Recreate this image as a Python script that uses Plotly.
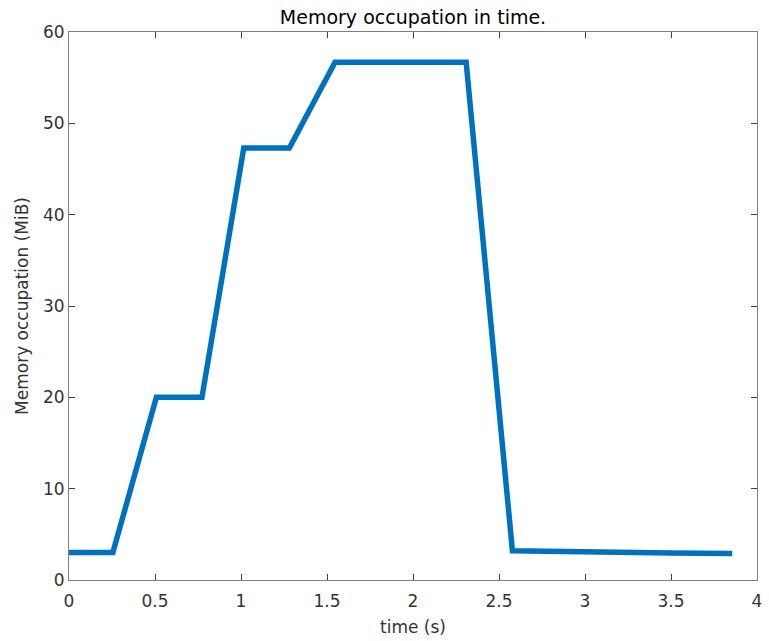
import plotly.graph_objects as go

time_s = [0, 0.255, 0.508, 0.773, 1.016, 1.281, 1.547, 2.309, 2.578, 2.86, 2.97, 3.1, 3.5, 3.856]
memory_mib = [3.0, 3.0, 20.0, 20.0, 47.3, 47.3, 56.7, 56.7, 3.2, 3.1, 3.0, 2.95, 2.95, 2.9]

x_ticks = [0, 0.5, 1, 1.5, 2, 2.5, 3, 3.5, 4]
x_tick_labels = ["0", "0.5", "1", "1.5", "2", "2.5", "3", "3.5", "4"]
y_ticks = [0, 10, 20, 30, 40, 50, 60]

FONT = "DejaVu Sans, Liberation Sans, Arial, sans-serif"
TXT = "#333333"

fig = go.Figure()
fig.add_trace(go.Scatter(
    x=time_s, y=memory_mib, mode="lines",
    line=dict(color="#0072BD", width=5.5),
    hoverinfo="skip", showlegend=False,
))

axis_common = dict(
    showgrid=False, zeroline=False, showline=True, linecolor="#808080", linewidth=1,
    mirror="ticks", ticks="inside", ticklen=6, tickcolor="#404040", tickwidth=1,
    tickfont=dict(family=FONT, size=17, color=TXT),
)

fig.update_layout(
    width=769, height=641,
    margin=dict(l=69, r=7, t=32, b=61),
    paper_bgcolor="white", plot_bgcolor="white",
    title=dict(text="Memory occupation in time.", x=0.5, xanchor="center", xref="paper",
               y=1 - 17 / 641, yanchor="middle",
               font=dict(family=FONT, size=19, color="black")),
    xaxis=dict(range=[0, 4], tickvals=x_ticks, ticktext=x_tick_labels,
               ticklabelstandoff=6, **axis_common),
    yaxis=dict(range=[0, 60], tickvals=y_ticks,
               title=dict(text="Memory occupation (MiB)", standoff=10,
                          font=dict(family=FONT, size=17, color=TXT)),
               **axis_common),
    annotations=[dict(text="time (s)", xref="paper", yref="paper", x=0.5, y=0,
                      xanchor="center", yanchor="middle", yshift=-47, showarrow=False,
                      font=dict(family=FONT, size=17, color=TXT))],
)

fig.write_html("out.html")
